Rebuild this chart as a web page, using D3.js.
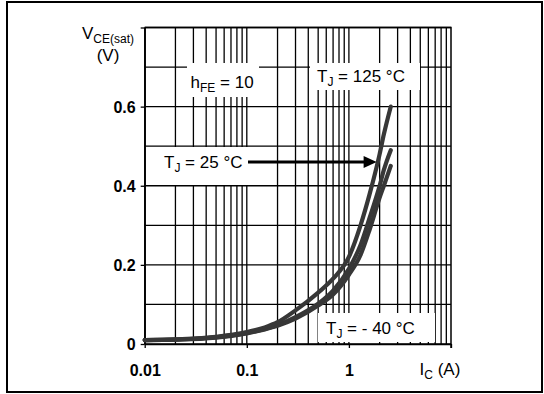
<!DOCTYPE html>
<html>
<head>
<meta charset="utf-8">
<script src="https://cdn.jsdelivr.net/npm/d3@7"></script>
<style>
  body { margin: 0; background: #fff; }
  svg { display: block; font-family: 'Liberation Sans', Arial, sans-serif; }
</style>
</head>
<body>
<div id="chart"></div>
<script>
// collector current (A) and V_CE(sat) (V) for each junction temperature
const currents = [0.01, 0.02, 0.05, 0.1, 0.15, 0.2, 0.3, 0.5, 0.7, 1, 1.3, 1.6, 2, 2.2, 2.57]
const vHot = [0.010, 0.012, 0.018, 0.030, 0.042, 0.055, 0.085, 0.130, 0.165, 0.220, 0.300, 0.380, 0.480, 0.530, 0.600]
const vRoom = [0.010, 0.011, 0.017, 0.028, 0.038, 0.048, 0.068, 0.102, 0.135, 0.190, 0.250, 0.320, 0.400, 0.440, 0.490]
const vCold = [0.010, 0.011, 0.016, 0.027, 0.037, 0.046, 0.064, 0.097, 0.125, 0.175, 0.225, 0.290, 0.370, 0.400, 0.450]

const xTicks = [0.01, 0.1, 1, 10]
const xTickLabels = ['0.01', '0.1', '1', '']
const yTicks = [0, 0.2, 0.4, 0.6, 0.8]
const yTickLabels = ['0', '0.2', '0.4', '0.6', '']

const W = 544
const H = 394

const svg = d3.select('#chart').append('svg')
  .attr('width', W)
  .attr('height', H)

// outer frame
svg.append('rect')
  .attr('x', 7).attr('y', 2)
  .attr('width', 535).attr('height', 390)
  .attr('fill', 'none')
  .attr('stroke', '#000')
  .attr('stroke-width', 2)

const x = d3.scaleLog().domain([0.01, 10]).range([144.7, 451])
const y = d3.scaleLinear().domain([0, 0.8]).range([344, 27.5])

// **grid**
const gridX = []
for (let dec = 0.01; dec < 10; dec *= 10) {
  for (let k = 1; k <= 9; k++) gridX.push(+(dec * k).toPrecision(3))
}
const gridY = d3.range(0, 9).map(i => i / 10)

const grid = svg.append('g')
  .attr('stroke', '#000')
  .attr('stroke-width', 1.3)

grid.selectAll('.gx').data(gridX).join('line')
  .attr('x1', d => x(d)).attr('x2', d => x(d))
  .attr('y1', y(0)).attr('y2', y(0.8))

grid.selectAll('.gy').data(gridY).join('line')
  .attr('x1', x(0.01)).attr('x2', x(10))
  .attr('y1', d => y(d)).attr('y2', d => y(d))

// **white label boxes over the grid**
const boxes = [
  [187, 63, 72, 34],
  [310, 63, 110, 27],
  [146, 147, 103, 38],
  [318, 313, 117, 29]
]
svg.selectAll('.box').data(boxes).join('rect')
  .attr('x', d => d[0]).attr('y', d => d[1])
  .attr('width', d => d[2]).attr('height', d => d[3])
  .attr('fill', '#fff')

// **axes**
const xAxis = svg.append('g')
  .attr('transform', `translate(0,${y(0)})`)
  .call(d3.axisBottom(x).tickValues(xTicks).tickSize(4).tickSizeOuter(0)
    .tickFormat((d, i) => xTickLabels[i]))
xAxis.select('.domain').attr('stroke-width', 1.5)
xAxis.selectAll('line').attr('stroke-width', 1.3)
xAxis.selectAll('text')
  .attr('y', 32)
  .attr('dy', 0)
  .style('font-family', "'Liberation Sans', Arial, sans-serif")
  .style('font-size', '16px')
  .style('font-weight', 'bold')
  .attr('fill', '#000')

const yAxis = svg.append('g')
  .attr('transform', `translate(${x(0.01)},0)`)
  .call(d3.axisLeft(y).tickValues(yTicks).tickSize(4).tickSizeOuter(0)
    .tickFormat((d, i) => yTickLabels[i]))
yAxis.select('.domain').attr('stroke-width', 1.5)
yAxis.selectAll('line').attr('stroke-width', 1.3)
yAxis.selectAll('text')
  .attr('x', -9)
  .attr('dy', '0.35em')
  .style('font-family', "'Liberation Sans', Arial, sans-serif")
  .style('font-size', '16px')
  .style('font-weight', 'bold')
  .attr('fill', '#000')

// top and right border of the plot
svg.append('path')
  .attr('d', `M${x(0.01)},${y(0.8)}H${x(10)}V${y(0) + 4}`)
  .attr('fill', 'none')
  .attr('stroke', '#000')
  .attr('stroke-width', 1.5)

// **curves**
const line = d3.line()
  .x(d => x(d[0]))
  .y(d => y(d[1]))
  .curve(d3.curveMonotoneX)

const series = [vCold, vRoom, vHot]
series.forEach(vals => {
  svg.append('path')
    .datum(currents.map((c, i) => [c, vals[i]]))
    .attr('fill', 'none')
    .attr('stroke', '#373737')
    .attr('stroke-width', 4.2)
    .attr('stroke-linecap', 'round')
    .attr('d', line)
})

// **arrow for the 25 °C label**
const ay = y(0.46)
svg.append('line')
  .attr('x1', 248).attr('x2', x(1.87) - 12)
  .attr('y1', ay).attr('y2', ay)
  .attr('stroke', '#000')
  .attr('stroke-width', 3)
svg.append('path')
  .attr('d', `M${x(1.87) - 13},${ay - 6}L${x(1.87)},${ay}L${x(1.87) - 13},${ay + 6}Z`)
  .attr('fill', '#000')

// **texts**
function label (px, py, main, sub, rest, size, subSize) {
  const t = svg.append('text')
    .attr('x', px).attr('y', py)
    .style('font-size', size + 'px')
    .attr('fill', '#000')
  t.append('tspan').text(main)
  t.append('tspan').attr('dy', 4).style('font-size', subSize + 'px').text(sub)
  t.append('tspan').attr('dy', -4).text(rest)
  return t
}

label(82, 39, 'V', 'CE(sat)', '', 17, 12)
svg.append('text')
  .attr('x', 108).attr('y', 60.5)
  .attr('text-anchor', 'middle')
  .style('font-size', '17px')
  .text('(V)')

label(190.5, 87.5, 'h', 'FE', ' = 10', 17, 12)
label(317, 81.5, 'T', 'J', ' = 125 °C', 17, 12)
label(164, 167.5, 'T', 'J', ' = 25 °C', 17, 12)
label(326, 334, 'T', 'J', ' = - 40 °C', 17, 12)
label(419.5, 375, 'I', 'C', ' (A)', 17, 12)
</script>
</body>
</html>
